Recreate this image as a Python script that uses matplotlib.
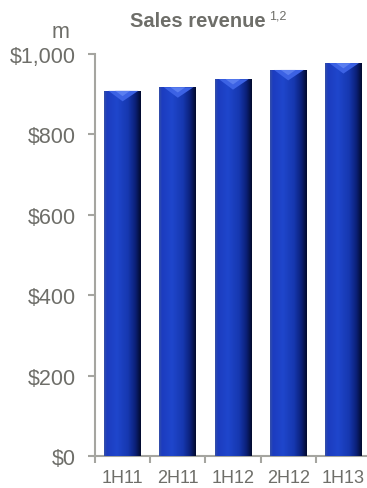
import numpy as np
import matplotlib.pyplot as plt
from matplotlib.colors import LinearSegmentedColormap
from matplotlib.patches import Polygon

periods = ['1H11', '2H11', '1H12', '2H12', '1H13']
revenue = [908, 917, 937, 960, 977]
yticks = [0, 200, 400, 600, 800, 1000]
ylabels = ['$0', '$200', '$400', '$600', '$800', '$1,000']

plt.rcParams['font.family'] = ['Liberation Sans', 'DejaVu Sans']
grey = '#6e6e69'
spine = '#a5a5a0'

fig = plt.figure(figsize=(3.67, 4.89), dpi=100)
ax = fig.add_axes([0.2589, 0.0648, 0.752, 0.823])

x = np.arange(len(periods))
bars = ax.bar(x, revenue, width=0.67, color='#1a3cc0', zorder=2)

cmap = LinearSegmentedColormap.from_list('bar', [
    (0.0, '#3550a8'), (0.08, '#1c3cbf'), (0.35, '#1f46cc'),
    (0.65, '#1638b0'), (0.85, '#0b2078'), (1.0, '#020a2c')])
grad = np.linspace(0, 1, 256).reshape(1, -1)
for b in bars:
    x0, w, h = b.get_x(), b.get_width(), b.get_height()
    im = ax.imshow(grad, cmap=cmap, aspect='auto', extent=(x0, x0 + w, 0, h),
                   zorder=3, interpolation='bilinear')
    im.set_clip_path(b)
    bev = 26
    # top bevel: light V in the middle
    ax.add_patch(Polygon([(x0 + w * 0.12, h), (x0 + w * 0.92, h), (x0 + w * 0.5, h - bev)],
                         closed=True, color='#3c62e4', lw=0, zorder=4))
    ax.add_patch(Polygon([(x0 + w * 0.3, h), (x0 + w * 0.7, h), (x0 + w * 0.5, h - bev * 0.5)],
                         closed=True, color='#5a7ef0', lw=0, zorder=4))

ax.set_xlim(-0.5, len(periods) - 0.5)
ax.set_ylim(0, 1000)
ax.set_yticks(yticks)
ax.set_yticklabels(ylabels)
ax.set_xticks(x)
ax.set_xticklabels(periods)
ax.set_xticks(np.arange(len(periods) + 1) - 0.5, minor=True)
ax.tick_params(axis='x', which='major', length=0, pad=9, labelsize=13, colors=grey)
ax.tick_params(axis='x', which='minor', length=5, width=1.5, color=spine, direction='out')
ax.tick_params(axis='y', length=5, width=1.5, color=spine, pad=9, labelsize=15.5, labelcolor=grey)
for s in ['top', 'right']:
    ax.spines[s].set_visible(False)
for s in ['left', 'bottom']:
    ax.spines[s].set_color(spine)
    ax.spines[s].set_linewidth(1.5)

fig.text(0.166, 0.934, 'm', fontsize=15.5, color=grey, ha='center', va='center')
fig.text(0.54, 0.957, 'Sales revenue', fontsize=14.5, fontweight='bold', color=grey,
         ha='center', va='center')
fig.text(0.733, 0.966, '1,2', fontsize=9, color=grey, ha='left', va='center')

plt.savefig('out.png', dpi=100)
